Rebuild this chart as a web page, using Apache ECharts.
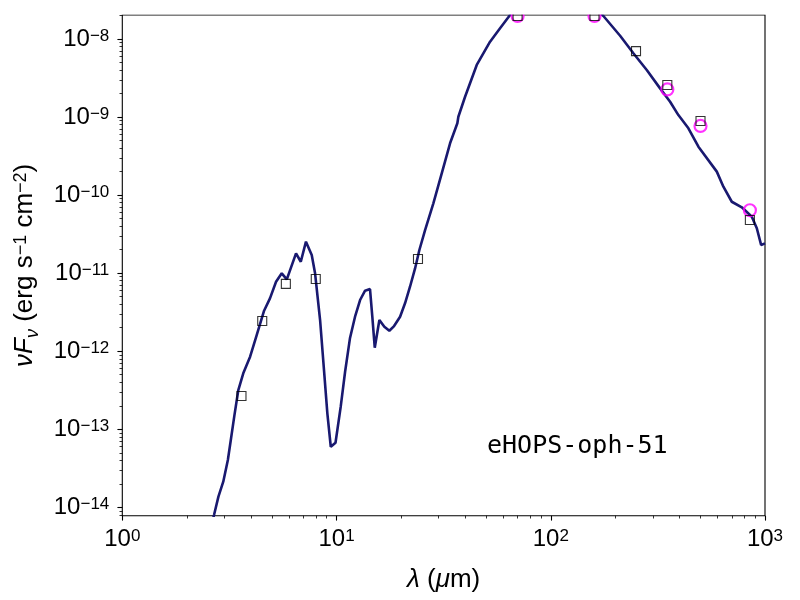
<!DOCTYPE html>
<html>
<head>
<meta charset="utf-8">
<script src="https://cdn.jsdelivr.net/npm/echarts@6/dist/echarts.min.js"></script>
<style>
html,body{margin:0;padding:0;background:#fff;}
#chart{width:800px;height:600px;}
</style>
</head>
<body>
<div id="chart"></div>
<script>
// ---- model SED (wavelength in micron, nuF_nu in erg s^-1 cm^-2) ----
const MODEL_LAMBDA = [2.50, 2.68, 2.81, 2.96, 3.11, 3.21, 3.33, 3.48, 3.67, 3.95,
  4.24, 4.59, 4.89, 5.22, 5.55, 5.86, 6.47, 6.81, 7.20, 7.66,
  7.94, 8.38, 8.74, 9.06, 9.40, 9.89, 10.46, 10.96, 11.56, 12.20,
  12.88, 13.59, 14.33, 14.69, 15.08, 15.85, 16.72, 17.64, 18.56, 19.80,
  20.88, 22.03, 23.26, 24.36, 25.90, 28.31, 30.98, 33.88, 36.64, 37.04,
  39.81, 45.13, 52.08, 57.98, 64.57, 75, 90, 110, 135, 160,
  176.1, 210.7, 243.0, 280.6, 323.8, 360.6, 394.2, 439.0, 488.9, 595.7,
  639.4, 699.8, 779.4, 867.9, 915.7, 959.1, 1000];
const MODEL_FLUX = [3.8e-15, 7.96e-15, 1.37e-14, 2.13e-14, 4.04e-14, 7.28e-14, 1.45e-13, 3.18e-13, 5.21e-13, 8.51e-13,
  1.61e-12, 3.30e-12, 4.76e-12, 7.76e-12, 9.95e-12, 8.34e-12, 1.79e-11, 1.40e-11, 2.53e-11, 1.71e-11,
  9.95e-12, 2.51e-12, 5.74e-13, 1.60e-13, 5.97e-14, 6.73e-14, 1.95e-13, 5.42e-13, 1.48e-12, 2.77e-12,
  4.53e-12, 5.96e-12, 6.26e-12, 2.77e-12, 1.11e-12, 2.51e-12, 2.06e-12, 1.83e-12, 2.10e-12, 2.77e-12,
  4.11e-12, 6.70e-12, 1.15e-11, 1.98e-11, 3.57e-11, 7.85e-11, 1.90e-10, 4.61e-10, 8.32e-10, 1.01e-9,
  1.82e-9, 4.65e-9, 9.23e-9, 1.37e-8, 2.03e-8, 2.7e-8, 3.2e-8, 3.3e-8, 2.9e-8, 2.5e-8,
  1.97e-8, 1.10e-8, 6.56e-9, 4.01e-9, 2.33e-9, 1.57e-9, 1.06e-9, 7.18e-10, 4.17e-10, 2.00e-10,
  1.28e-10, 8.22e-11, 6.98e-11, 5.28e-11, 3.76e-11, 2.30e-11, 2.41e-11];

// ---- observed photometry (black open squares) ----
const PHOT_LAMBDA = [3.6, 4.5, 5.8, 8.0, 24, 70, 160, 250, 350, 500, 850];
const PHOT_FLUX = [2.67e-13, 2.44e-12, 7.3e-12, 8.4e-12, 1.52e-11, 1.97e-8, 1.97e-8, 7.0e-9, 2.58e-9, 8.9e-10, 4.8e-11];

// ---- second photometry set (magenta open circles) ----
const ALT_LAMBDA = [70, 160, 350, 500, 850];
const ALT_FLUX = [1.97e-8, 1.97e-8, 2.26e-9, 7.7e-10, 6.4e-11];

// ---- axes ----
const X_MIN = 1, X_MAX = 1000;
const Y_MIN = 7.81e-15, Y_MAX = 2.03e-8;
const X_MAJOR_TICKS = [1, 10, 100, 1000];
const Y_MAJOR_TICKS = [1e-14, 1e-13, 1e-12, 1e-11, 1e-10, 1e-9, 1e-8];
const MINOR_MULTIPLIERS = [2, 3, 4, 5, 6, 7, 8, 9];
const SOURCE_NAME = 'eHOPS-oph-51';

function minorTicks(lo, hi) {
  const out = [];
  for (let e = Math.floor(Math.log10(lo)); e <= Math.floor(Math.log10(hi)); e++) {
    MINOR_MULTIPLIERS.forEach(function (m) {
      const v = Number((m * Math.pow(10, e)).toPrecision(4));
      if (v >= lo && v <= hi) out.push(v);
    });
  }
  return out;
}

function sciLabel(v) {
  const e = Math.round(Math.log10(v));
  const s = e < 0 ? '\u2212' + (-e) : String(e);
  return '{b|10}{s|' + s + '}';
}

const FONT = 'Liberation Sans';
const LABEL_RICH = {
  b: {fontFamily: FONT, fontSize: 24, lineHeight: 24, padding: [5, 0, 5, 0], verticalAlign: 'middle', color: '#000'},
  s: {fontFamily: FONT, fontSize: 17, lineHeight: 17, padding: [0.5, 0, 0, 0], verticalAlign: 'top', color: '#000'}
};
const NAME_RICH = {
  n: {fontFamily: FONT, fontSize: 26, lineHeight: 26, padding: [5, 0, 5, 0], verticalAlign: 'middle', color: '#000'},
  i: {fontFamily: FONT, fontSize: 26, lineHeight: 26, padding: [5, 0, 5, 0], verticalAlign: 'middle', fontStyle: 'italic', color: '#000'},
  sub: {fontFamily: FONT, fontSize: 18, lineHeight: 18, padding: [12, 0, 0, 0], verticalAlign: 'top', fontStyle: 'italic', color: '#000'},
  sup: {fontFamily: FONT, fontSize: 18, lineHeight: 18, padding: [0.5, 0, 0, 0], verticalAlign: 'top', color: '#000'}
};

const GRID = {left: 122.3, right: 35, top: 15, bottom: 84.3};

const chart = echarts.init(document.getElementById('chart'), null, {renderer: 'canvas'});

function majorAxis(dim, lo, hi, ticks, nameText, nameGap) {
  return {
    type: 'log', logBase: 10, min: lo, max: hi, gridIndex: 0,
    position: dim === 'x' ? 'bottom' : 'left',
    name: nameText, nameLocation: 'middle', nameGap: nameGap,
    nameRotate: dim === 'x' ? 0 : 90,
    nameTextStyle: {fontFamily: FONT, fontSize: 26, color: '#000', rich: NAME_RICH},
    axisLine: {show: false},
    splitLine: {show: false},
    minorTick: {show: false},
    axisTick: {show: true, inside: false, length: 4.9, lineStyle: {color: '#000', width: 1.1}, customValues: ticks},
    axisLabel: {show: true, margin: dim === 'x' ? 12 : 13, customValues: ticks, formatter: sciLabel,
      color: '#000', fontFamily: FONT, fontSize: 24, rich: LABEL_RICH, showMinLabel: true, showMaxLabel: true}
  };
}
function minorAxis(dim, lo, hi) {
  return {
    type: 'log', logBase: 10, min: lo, max: hi, gridIndex: 0,
    position: dim === 'x' ? 'bottom' : 'left',
    axisLine: {show: false}, splitLine: {show: false}, axisLabel: {show: false},
    axisTick: {show: true, inside: false, length: 2.8, lineStyle: {color: '#000', width: 0.8}, customValues: minorTicks(lo, hi)}
  };
}

const option = {
  animation: false,
  backgroundColor: '#ffffff',
  textStyle: {fontFamily: FONT, color: '#000'},
  grid: {left: GRID.left, right: GRID.right, top: GRID.top, bottom: GRID.bottom,
    show: true, borderColor: '#000', borderWidth: 1.1, backgroundColor: 'rgba(0,0,0,0)',
    containLabel: false, outerBoundsMode: 'none'},
  xAxis: [
    majorAxis('x', X_MIN, X_MAX, X_MAJOR_TICKS, '{i|\u03bb}{n| (}{i|\u03bc}{n|m)}', 36),
    minorAxis('x', X_MIN, X_MAX)
  ],
  yAxis: [
    majorAxis('y', Y_MIN, Y_MAX, Y_MAJOR_TICKS,
      '{i|\u03bdF}{sub|\u03bd}{n| (erg s}{sup|\u22121}{n| cm}{sup|\u22122}{n|)}', 71),
    minorAxis('y', Y_MIN, Y_MAX)
  ],
  series: [
    {
      name: 'model', type: 'line', xAxisIndex: 0, yAxisIndex: 0,
      data: MODEL_LAMBDA.map(function (l, i) { return [l, MODEL_FLUX[i]]; }),
      symbol: 'none', showSymbol: false, smooth: false, clip: true,
      lineStyle: {color: '#191970', width: 2.6}, z: 2
    },
    {
      name: 'alt', type: 'scatter', xAxisIndex: 0, yAxisIndex: 0,
      data: ALT_LAMBDA.map(function (l, i) { return [l, ALT_FLUX[i]]; }),
      symbol: 'circle', symbolSize: 12,
      itemStyle: {color: 'rgba(0,0,0,0)', borderColor: '#ff00ff', borderWidth: 2.2}, z: 3
    },
    {
      name: 'phot', type: 'scatter', xAxisIndex: 0, yAxisIndex: 0,
      data: PHOT_LAMBDA.map(function (l, i) { return [l, PHOT_FLUX[i]]; }),
      symbol: 'rect', symbolSize: 9,
      itemStyle: {color: 'rgba(0,0,0,0)', borderColor: '#000', borderWidth: 1.1}, z: 4
    }
  ],
  graphic: [
    {type: 'rect', left: 0, top: 0, silent: true, z: 100,
      shape: {width: 800, height: GRID.top - 0.6}, style: {fill: '#ffffff'}},
    {type: 'text', left: 487, top: 434, z: 100,
      style: {text: SOURCE_NAME, fontFamily: 'DejaVu Sans Mono', fontSize: 25, fill: '#000'}}
  ]
};
chart.setOption(option);
</script>
</body>
</html>
